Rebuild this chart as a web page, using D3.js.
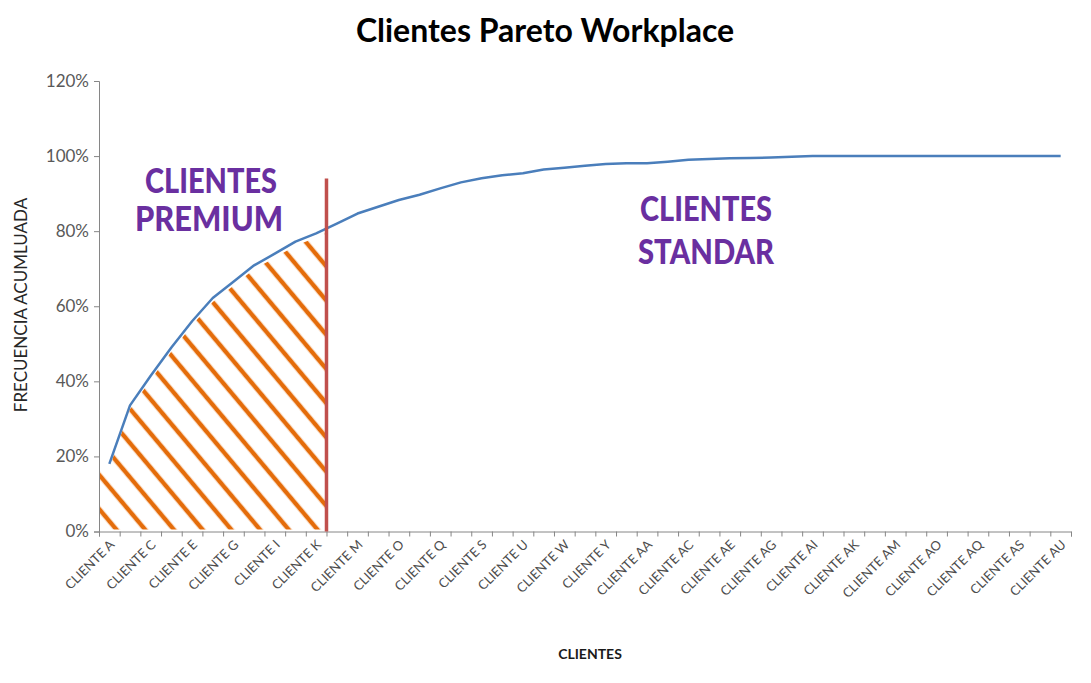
<!DOCTYPE html>
<meta charset="utf-8">
<html>
<head>
<script src="https://cdn.jsdelivr.net/npm/d3@7"></script>
<style>
  body { margin: 0; background: #fff; }
  svg text { font-family: Lato, "Open Sans", sans-serif; }
</style>
</head>
<body>
<div id="chart"></div>
<script>

// categorias (clientes A .. AU)
var clientes = ["CLIENTE A","CLIENTE B","CLIENTE C","CLIENTE D","CLIENTE E","CLIENTE F","CLIENTE G",
  "CLIENTE H","CLIENTE I","CLIENTE J","CLIENTE K","CLIENTE L","CLIENTE M","CLIENTE N","CLIENTE O",
  "CLIENTE P","CLIENTE Q","CLIENTE R","CLIENTE S","CLIENTE T","CLIENTE U","CLIENTE V","CLIENTE W",
  "CLIENTE X","CLIENTE Y","CLIENTE Z","CLIENTE AA","CLIENTE AB","CLIENTE AC","CLIENTE AD","CLIENTE AE",
  "CLIENTE AF","CLIENTE AG","CLIENTE AH","CLIENTE AI","CLIENTE AJ","CLIENTE AK","CLIENTE AL","CLIENTE AM",
  "CLIENTE AN","CLIENTE AO","CLIENTE AP","CLIENTE AQ","CLIENTE AR","CLIENTE AS","CLIENTE AT","CLIENTE AU"];

// frecuencia acumulada
var acumulada = [0.180, 0.336, 0.415, 0.490, 0.560, 0.622, 0.665, 0.709, 0.740, 0.772, 0.794,
  0.820, 0.847, 0.865, 0.883, 0.897, 0.914, 0.930, 0.941, 0.949, 0.954, 0.964, 0.969, 0.974,
  0.979, 0.981, 0.981, 0.985, 0.990, 0.992, 0.994, 0.995, 0.996, 0.998, 1.000, 1.000, 1.000,
  1.000, 1.000, 1.000, 1.000, 1.000, 1.000, 1.000, 1.000, 1.000, 1.000];

var yTicks = [0, 0.2, 0.4, 0.6, 0.8, 1.0, 1.2];
var numPremium = 11;      // clientes A..K
var corteAlto = 0.94;     // altura de la linea roja

var W = 1091, H = 683;
var margin = {top: 81, right: 20, bottom: 151.5, left: 99},
    width = W - margin.left - margin.right,
    height = H - margin.top - margin.bottom;

var svg = d3.select("#chart").append("svg")
    .attr("width", W)
    .attr("height", H);

var g = svg.append("g")
    .attr("transform", "translate(" + margin.left + "," + margin.top + ")");

var x = d3.scaleBand().domain(clientes).range([0, width]);
var xLin = d3.scaleLinear().domain([0, clientes.length]).range([0, width]);
var y = d3.scaleLinear().domain([0, 1.2]).range([height, 0]);

var cx = function(i) { return x(clientes[i]) + x.bandwidth() / 2; };

// titulo
svg.append("text")
    .attr("x", 545).attr("y", 42)
    .attr("text-anchor", "middle")
    .style("font-size", "32px").style("font-weight", "bold").style("fill", "#000")
    .text("Clientes Pareto Workplace");

// patron rayado naranja
var defs = svg.append("defs");
defs.append("pattern")
    .attr("id", "rayas")
    .attr("patternUnits", "userSpaceOnUse")
    .attr("width", 22).attr("height", 22)
    .attr("patternTransform", "rotate(-40)")
  .append("line")
    .attr("x1", 11).attr("y1", -2).attr("x2", 11).attr("y2", 24)
    .attr("stroke", "#E46C0A").attr("stroke-width", 4.5);

// zona premium bajo la curva
var xCorte = xLin(numPremium);
var zona = [[0, acumulada[0]]];
for (var i = 0; i < numPremium; i++) zona.push([cx(i), acumulada[i]]);
zona.push([xCorte, (acumulada[numPremium - 1] + acumulada[numPremium]) / 2]);

g.append("path")
    .datum(zona)
    .attr("fill", "url(#rayas)")
    .attr("d", d3.area()
      .x(function(d) { return d[0]; })
      .y0(y(0) - 2)
      .y1(function(d) { return y(d[1]) + 4; }));

// eje Y
var yAxis = g.append("g")
    .call(d3.axisLeft(y).tickValues(yTicks).tickSize(5).tickPadding(5).tickFormat(d3.format(".0%")));
yAxis.select(".domain").attr("stroke", "#868686");
yAxis.selectAll(".tick line").attr("stroke", "#868686");
yAxis.selectAll("text").style("font-size", "17px").style("fill", "#595959").style("font-family", "Lato");

// eje X: marcas entre categorias
var xAxis = g.append("g")
    .attr("transform", "translate(0," + height + ")")
    .call(d3.axisBottom(xLin).tickValues(d3.range(0, clientes.length + 1)).tickSize(5).tickFormat(""));
xAxis.select(".domain").attr("stroke", "#868686");
xAxis.selectAll(".tick line").attr("stroke", "#868686");

// etiquetas X (una si, una no)
g.append("g").selectAll("text")
    .data(clientes.filter(function(d, i) { return i % 2 == 0; }))
    .enter().append("text")
    .attr("transform", function(d) {
      return "translate(" + (x(d) + x.bandwidth() / 2 + 6) + "," + (height + 14) + ") rotate(-45)";
    })
    .attr("text-anchor", "end")
    .style("font-size", "13px").style("fill", "#4d4d4d")
    .text(function(d) { return d; });

// curva acumulada
g.append("path")
    .datum(acumulada)
    .attr("fill", "none")
    .attr("stroke", "#4A7EBB")
    .attr("stroke-width", 2.5)
    .attr("stroke-linejoin", "round")
    .attr("d", d3.line()
      .x(function(d, i) { return cx(i); })
      .y(function(d) { return y(d); }));

// linea roja de corte
g.append("line")
    .attr("x1", xCorte).attr("x2", xCorte)
    .attr("y1", y(0)).attr("y2", y(corteAlto))
    .attr("stroke", "#C0504D").attr("stroke-width", 3.5);

// textos de zonas
function rotulo(txt, xc, yb, largo) {
  g.append("text")
    .attr("x", xc - largo / 2).attr("y", yb)
    .attr("textLength", largo).attr("lengthAdjust", "spacingAndGlyphs")
    .style("font-size", "35px").style("font-weight", "900").style("fill", "#6A2FA0")
    .text(txt);
}
rotulo("CLIENTES", 211 - margin.left, 193 - margin.top, 132);
rotulo("PREMIUM", 209 - margin.left, 231 - margin.top, 148);
rotulo("CLIENTES", 706 - margin.left, 221 - margin.top, 132);
rotulo("STANDAR", 706 - margin.left, 264 - margin.top, 136);

// titulos de ejes
svg.append("text")
    .attr("x", 590).attr("y", 659)
    .attr("text-anchor", "middle")
    .style("font-size", "14px").style("font-weight", "bold").style("fill", "#1a1a1a")
    .text("CLIENTES");

svg.append("text")
    .attr("transform", "translate(27,305) rotate(-90)")
    .attr("text-anchor", "middle")
    .style("font-size", "17px").style("fill", "#262626")
    .text("FRECUENCIA ACUMLUADA");

</script>
</body>
</html>
